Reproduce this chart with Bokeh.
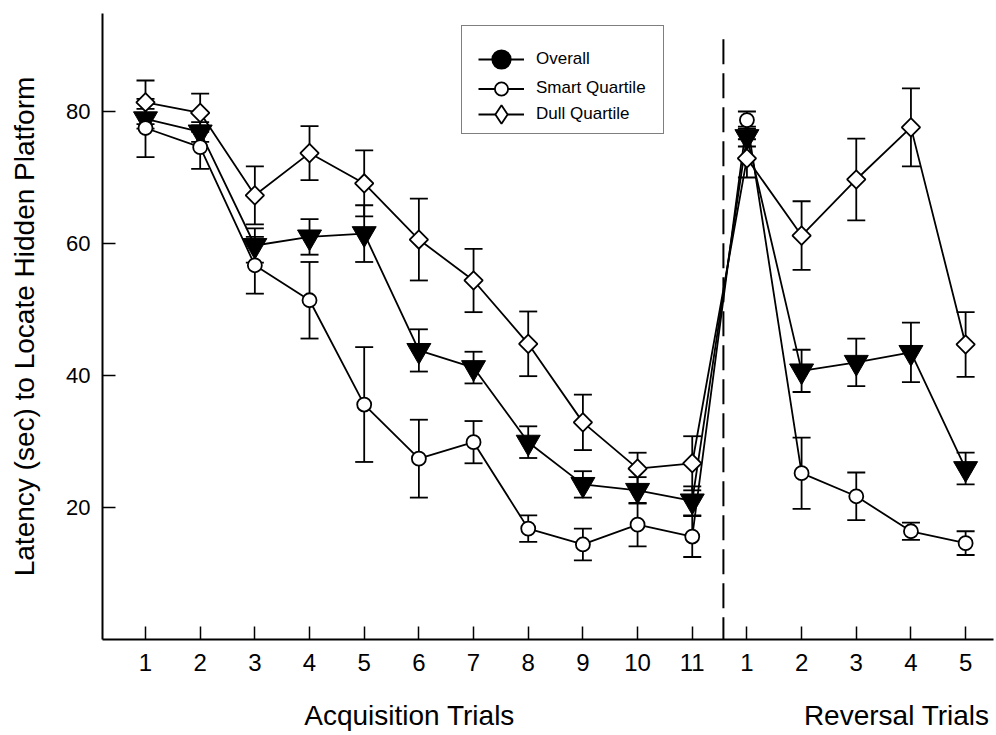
import numpy as np
from bokeh.plotting import figure
from bokeh.models import (ColumnDataSource, Whisker, TeeHead, Legend, LegendItem,
                          FixedTicker, Range1d, LinearAxis)
from bokeh.embed import file_html
from bokeh.resources import INLINE

# ---------------- data ----------------
trials = list(range(1, 17))
tick_labels = ["1", "2", "3", "4", "5", "6", "7", "8", "9", "10", "11",
               "1", "2", "3", "4", "5"]

overall = [78.9, 76.9, 59.7, 61.0, 61.5, 43.8, 41.2, 29.9, 23.5, 22.6, 21.0,
           76.2, 40.7, 42.0, 43.5, 25.9]
overall_err = [1.5, 1.5, 2.6, 2.7, 4.3, 3.2, 2.4, 2.4, 2.0, 2.0, 2.2,
               1.5, 3.2, 3.6, 4.5, 2.4]
smart = [77.5, 74.6, 56.7, 51.4, 35.6, 27.4, 29.9, 16.8, 14.4, 17.4, 15.6,
         78.7, 25.2, 21.7, 16.4, 14.6]
smart_err = [4.4, 3.3, 4.3, 5.8, 8.7, 5.9, 3.2, 2.0, 2.4, 3.3, 3.1,
             1.3, 5.4, 3.6, 1.3, 1.8]
dull = [81.4, 79.8, 67.3, 73.7, 69.1, 60.6, 54.4, 44.8, 32.9, 25.9, 26.7,
        72.9, 61.2, 69.7, 77.6, 44.7]
dull_err = [3.3, 2.9, 4.4, 4.1, 5.0, 6.2, 4.8, 4.9, 4.2, 2.4, 4.1,
            2.9, 5.2, 6.2, 5.9, 4.9]

phase_titles = ["Acquisition Trials", "Reversal Trials"]
phase_title_pos = [5.83, 14.74]

divider_x = [11.57]
divider_y0 = [-0.4]
divider_y1 = [91.5]

y_ticks = [20, 40, 60, 80]
FONT = "Liberation Sans"

# ---------------- figure ----------------
p = figure(width=996, height=735, output_backend="svg", toolbar_location=None,
           x_range=Range1d(0.2135, 16.51), y_range=Range1d(0, 94.85),
           min_border_left=102, min_border_right=3, min_border_top=13,
           min_border_bottom=96)
p.outline_line_color = None
p.grid.visible = False
p.background_fill_color = "white"
p.border_fill_color = "white"

# axes
xa = p.xaxis[0]
xa.ticker = FixedTicker(ticks=trials)
xa.major_label_overrides = {t: lab for t, lab in zip(trials, tick_labels)}
xa.minor_tick_line_color = None
xa.major_tick_in = 13
xa.major_tick_out = 0
xa.major_tick_line_width = 1.5
xa.axis_line_width = 2
xa.major_label_standoff = 14
xa.major_label_text_font = FONT
xa.major_label_text_font_size = "24px"
xa.major_label_text_color = "black"

# second "axis" carrying the phase titles
ta = LinearAxis(ticker=FixedTicker(ticks=phase_title_pos),
                major_label_overrides={v: t for v, t in zip(phase_title_pos, phase_titles)},
                axis_line_color=None, major_tick_line_color=None,
                minor_tick_line_color=None, major_label_standoff=20,
                major_label_text_font=FONT, major_label_text_font_size="28px",
                major_label_text_color="black")
p.add_layout(ta, "below")

ya = p.yaxis[0]
ya.ticker = FixedTicker(ticks=y_ticks)
ya.minor_tick_line_color = None
ya.major_tick_in = 13
ya.major_tick_out = 0
ya.major_tick_line_width = 1.5
ya.axis_line_width = 2
ya.major_label_standoff = 12
ya.major_label_text_font = FONT
ya.major_label_text_font_size = "22px"
ya.major_label_text_color = "black"
ya.axis_label = "Latency (sec) to Locate Hidden Platform"
ya.axis_label_text_font = FONT
ya.axis_label_text_font_size = "28px"
ya.axis_label_text_font_style = "normal"
ya.axis_label_text_color = "black"
ya.axis_label_standoff = 23

# divider
p.segment(x0=divider_x, y0=divider_y0, x1=divider_x, y1=divider_y1,
          line_color="black", line_width=2, line_dash="25 9")

LW = 1.8
series = [
    ("Overall", overall, overall_err),
    ("Smart Quartile", smart, smart_err),
    ("Dull Quartile", dull, dull_err),
]
sources = {}
for name, vals, errs in series:
    src = ColumnDataSource(dict(
        x=trials, y=vals,
        upper=[v + e for v, e in zip(vals, errs)],
        lower=[v - e for v, e in zip(vals, errs)],
    ))
    sources[name] = src
    w = Whisker(source=src, base="x", upper="upper", lower="lower",
                dimension="height", line_color="black", line_width=LW,
                upper_head=TeeHead(size=18, line_width=LW, line_color="black"),
                lower_head=TeeHead(size=18, line_width=LW, line_color="black"),
                level="underlay")
    p.add_layout(w)

for name, vals, errs in series:
    p.line("x", "y", source=sources[name], line_color="black", line_width=LW)

p.scatter("x", "y", source=sources["Overall"], marker="inverted_triangle",
          size=24, fill_color="black", line_color="black", line_width=1)
p.scatter("x", "y", source=sources["Smart Quartile"], marker="circle",
          size=14, fill_color="white", line_color="black", line_width=LW)
p.scatter("x", "y", source=sources["Dull Quartile"], marker="square",
          angle=np.pi / 4, size=13, fill_color="white", line_color="black",
          line_width=LW)

# ---------------- legend ----------------
nan_src = ColumnDataSource(dict(x=[np.nan], y=[np.nan]))

# frame box
box_r = p.line("x", "y", source=nan_src, line_alpha=0)
box = Legend(items=[LegendItem(label=" ", renderers=[box_r])],
             location=(359, 505), glyph_width=201, glyph_height=107,
             padding=0, margin=0, label_standoff=0, label_width=0,
             label_text_font_size="1px",
             border_line_color="black", border_line_width=1.5,
             background_fill_color="white", background_fill_alpha=1)
p.add_layout(box, "center")

entries = [("Overall", "circle", "black", 48, 556),
           ("Smart Quartile", "circle", "white", 33, 534.5),
           ("Dull Quartile", "diamond", "white", 48, 501)]
for name, marker, fill, gh, ypos in entries:
    lr = p.line("x", "y", source=nan_src, line_color="black", line_width=LW)
    sr = p.scatter("x", "y", source=nan_src, marker=marker, fill_color=fill,
                   line_color="black", line_width=LW)
    lg = Legend(items=[LegendItem(label=name, renderers=[lr, sr])],
                location=(376, ypos), glyph_width=46, glyph_height=gh,
                padding=0, margin=0, label_standoff=12,
                label_text_font=FONT, label_text_font_size="17px",
                label_text_color="black", border_line_color=None,
                background_fill_alpha=0)
    p.add_layout(lg, "center")

open("out.html", "w").write(file_html(p, INLINE))
